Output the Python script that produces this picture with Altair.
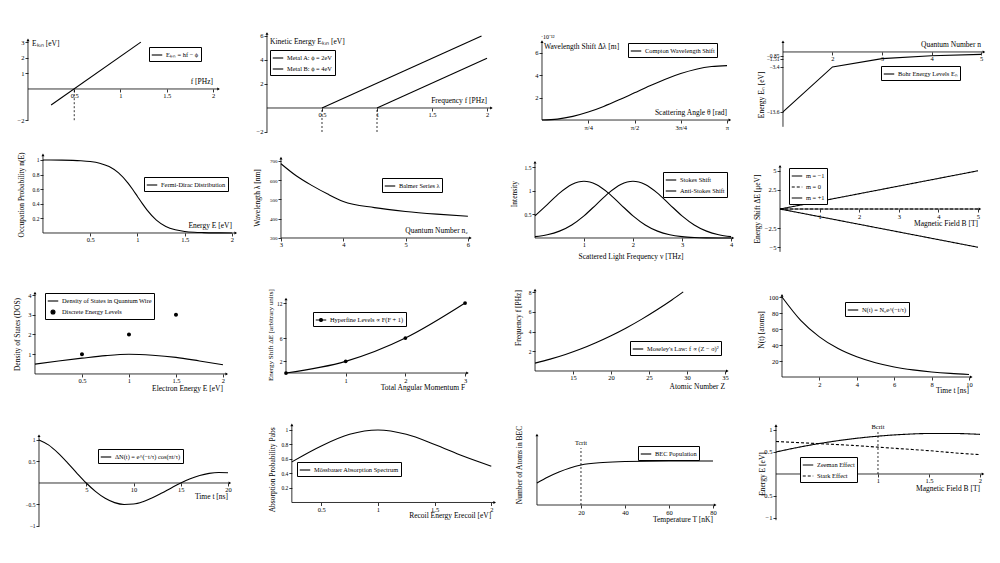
import altair as alt
import pandas as pd

FONT = "Liberation Serif"
CW, CH = 246, 136

# ---------------- data ----------------
# 1 photoelectric effect
p1_f = [0.25, 1.22]
p1_E = [-1.03, 3.0]
# 2 two metals
p2_fA = [0.5, 1.95]; p2_EA = [0.0, 6.0]
p2_fB = [1.0, 2.0]; p2_EB = [0.0, 4.14]
# 3 Compton (units 1e-12 m)
p3_theta = [0, 0.2618, 0.5236, 0.7854, 1.0472, 1.309, 1.5708, 1.8326, 2.0944, 2.3562, 2.618, 2.8798, 3.1416]
p3_dl = [0, 0.083, 0.326, 0.712, 1.215, 1.801, 2.43, 3.059, 3.645, 4.148, 4.534, 4.777, 4.86]
p3_ticks = [0.7854, 1.5708, 2.3562, 3.1416]
p3_ticklabels = ["π/4", "π/2", "3π/4", "π"]
# 4 Bohr levels
p4_n = [1, 2, 3, 4, 5]
p4_E = [-13.6, -3.4, -1.51, -0.85, -0.54]
# 5 Fermi-Dirac
p5_E = [0, 0.2, 0.4, 0.5, 0.6, 0.7, 0.8, 0.9, 0.95, 1.0, 1.05, 1.1, 1.2, 1.3, 1.4, 1.5, 1.6, 1.7, 1.8, 2.0]
p5_n = [1.0, 0.998, 0.990, 0.979, 0.956, 0.910, 0.823, 0.683, 0.595, 0.5, 0.405, 0.317, 0.177, 0.090, 0.044, 0.021, 0.010, 0.005, 0.002, 0.0005]
# 6 Balmer series
p6_n = [3, 3.25, 3.5, 3.75, 4, 4.5, 5, 5.5, 6]
p6_lam = [686, 622, 572, 528, 490, 458, 438, 424, 413]
# 7 Raman
p7_nu = [0, 0.25, 0.5, 0.75, 1, 1.25, 1.5, 1.75, 2, 2.25, 2.5, 2.75, 3, 3.25, 3.5, 3.75, 4]
p7_stokes = [0.469, 0.707, 0.949, 1.131, 1.2, 1.131, 0.949, 0.707, 0.469, 0.276, 0.145, 0.067, 0.028, 0.010, 0.003, 0.001, 0.0]
p7_anti = [0.028, 0.067, 0.145, 0.276, 0.469, 0.707, 0.949, 1.131, 1.2, 1.131, 0.949, 0.707, 0.469, 0.276, 0.145, 0.067, 0.028]
# 8 Zeeman splitting
p8_B = [0, 5]
p8_mneg = [0, 5]
p8_mzero = [0, 0]
p8_mpos = [0, -5]
# 9 DOS quantum wire
p9_E = [0, 0.25, 0.5, 0.75, 1.0, 1.25, 1.5, 1.75, 2.0]
p9_dos = [0.5, 0.66, 0.8, 0.93, 1.0, 0.95, 0.84, 0.66, 0.47]
p9_levE = [0.5, 1.0, 1.5]
p9_lev = [1, 2, 3]
# 10 hyperfine
p10_F = [0, 1, 2, 3]
p10_dE = [0, 2, 6, 12]
# 11 Moseley
p11_Z = [10, 12, 14, 16, 18, 20, 22, 24, 26, 28, 29.5]
p11_f = [0.80, 1.20, 1.67, 2.22, 2.86, 3.57, 4.36, 5.23, 6.18, 7.20, 8.02]
# 12 decay
p12_t = [0, 1, 2, 3, 4, 5, 6, 7, 8, 9, 10]
p12_N = [100, 70.8, 50.2, 35.5, 25.2, 17.8, 12.6, 8.95, 6.34, 4.49, 3.18]
# 13 damped oscillation
p13_t = list(range(0, 21))
p13_dN = [1.0, 0.886, 0.701, 0.475, 0.232, 0.0, -0.201, -0.356, -0.457, -0.500, -0.490,
          -0.434, -0.343, -0.232, -0.114, 0.0, 0.099, 0.175, 0.224, 0.245, 0.239]
# 14 Mossbauer
p14_E = [0.24, 0.5, 0.75, 1.0, 1.25, 1.5, 1.75, 2.0]
p14_P = [0.56, 0.78, 0.94, 1.0, 0.94, 0.8, 0.64, 0.5]
# 15 BEC population
p15_T = [0, 5, 10, 15, 20, 30, 40, 60, 80]
p15_N = [2.2, 2.8, 3.3, 3.7, 4.0, 4.25, 4.35, 4.4, 4.4]
p15_Tc = 20
# 16 Zeeman vs Stark
p16_B = [0, 0.25, 0.5, 0.75, 1.0, 1.25, 1.5, 1.75, 2.0]
p16_zee = [0.5, 0.62, 0.72, 0.8, 0.86, 0.9, 0.92, 0.92, 0.9]
p16_sta = [0.74, 0.71, 0.68, 0.65, 0.61, 0.57, 0.53, 0.48, 0.44]
p16_Bc = 1.0

SOLID = [1, 0]
DASH = [3, 2]
DOT_PATH = "M-0.38,0A0.38,0.38,0,1,1,0.38,0A0.38,0.38,0,1,1,-0.38,0Z"
NUMFMT = "format(datum.value, '~g')"


# ---------------- helpers ----------------
def enc(xdom, ydom, xt, yt, x_at, y_at, xlabexpr=None, ysize=6.5):
    py = CH * (ydom[1] - y_at) / (ydom[1] - ydom[0])
    px = CW * (x_at - xdom[0]) / (xdom[1] - xdom[0])
    xkw = dict(values=xt, offset=py - CH, domain=False, grid=False, title=None,
               labelExpr=xlabexpr or NUMFMT,
               labelOverlap=False, labelFlush=False, tickSize=3, labelPadding=1)
    ykw = dict(values=yt, offset=-px, domain=False, grid=False, title=None, labelExpr=NUMFMT,
               labelOverlap=False, labelFlush=False, tickSize=3, labelPadding=1,
               labelFontSize=ysize)
    X = alt.X("x:Q", scale=alt.Scale(domain=xdom, nice=False, zero=False), axis=alt.Axis(**xkw))
    Y = alt.Y("y:Q", scale=alt.Scale(domain=ydom, nice=False, zero=False), axis=alt.Axis(**ykw))
    return X, Y


def frame(X, Y, xa, ya, x_at, y_at):
    df = pd.DataFrame({"x": [xa[0], x_at], "x2": [xa[1], x_at],
                       "y": [y_at, ya[0]], "y2": [y_at, ya[1]]})
    rules = alt.Chart(df).mark_rule(color="black", strokeWidth=0.8).encode(
        x=X, x2="x2:Q", y=Y, y2="y2:Q")
    ax = alt.Chart(pd.DataFrame({"x": [xa[1]], "y": [y_at]})).mark_point(
        shape="triangle-right", filled=True, size=9, color="black", opacity=1).encode(x=X, y=Y)
    ay = alt.Chart(pd.DataFrame({"x": [x_at], "y": [ya[1]]})).mark_point(
        shape="triangle-up", filled=True, size=9, color="black", opacity=1).encode(x=X, y=Y)
    return [rules, ax, ay]


def label(X, Y, x, y, t, align="left", baseline="middle", angle=0, dx=0, dy=0, size=7.5):
    return alt.Chart(pd.DataFrame({"x": [x], "y": [y], "t": [t]})).mark_text(
        font=FONT, fontSize=size, align=align, baseline=baseline, angle=angle,
        dx=dx, dy=dy, color="black").encode(x=X, y=Y, text="t:N")


def vdash(X, Y, x, y0, y1):
    df = pd.DataFrame({"x": [x], "y": [y0], "y2": [y1]})
    return alt.Chart(df).mark_rule(color="black", strokeWidth=0.8, strokeDash=[2, 2]).encode(
        x=X, y=Y, y2="y2:Q")


def series_df(items):
    frames = []
    for name, xs, ys in items:
        frames.append(pd.DataFrame({"x": xs, "y": ys, "s": name}))
    return pd.concat(frames, ignore_index=True)


def legend(lx, ly, symtype="stroke"):
    return alt.Legend(orient="none", legendX=lx, legendY=ly, title=None, symbolType=symtype)


def lines(X, Y, items, dashes, lx, ly, interp="linear", symtype="stroke", point=False):
    names = [it[0] for it in items]
    df = series_df(items)
    leg = legend(lx, ly, symtype)
    e = dict(x=X, y=Y,
             color=alt.Color("s:N", scale=alt.Scale(domain=names, range=["black"] * len(names)), legend=leg))
    if dashes is not None:
        e["strokeDash"] = alt.StrokeDash("s:N", scale=alt.Scale(domain=names, range=dashes), legend=leg)
    mk = dict(strokeWidth=1.1, interpolate=interp)
    if point:
        mk["point"] = alt.OverlayMarkDef(filled=True, size=14, color="black")
    return alt.Chart(df).mark_line(**mk).encode(**e)


def panel(layers):
    return alt.layer(*layers).properties(width=CW, height=CH)


panels = []

# ---- 1 ----
xd, yd = [-0.216, 2.443], [-3.526, 5.19]
X, Y = enc(xd, yd, [0.5, 1, 1.5, 2], [-2, 1, 2, 3], 0, 0)
panels.append(panel(frame(X, Y, [0, 2.06], [-2, 3.15], 0, 0) + [
    vdash(X, Y, 0.5, -2, 0),
    lines(X, Y, [("Eₖᵢₙ = hf − ϕ", p1_f, p1_E)], None, 141, 39),
    label(X, Y, 0, 3, "Eₖᵢₙ [eV]", dx=4, dy=2),
    label(X, Y, 2, 0, "f [PHz]", align="right", baseline="bottom", dy=-3),
]))

# ---- 2 ----
xd, yd = [-0.118, 2.118], [-3.0, 8.33]
X, Y = enc(xd, yd, [0.5, 1, 1.5, 2], [-2, 2, 4, 6], 0, 0)
panels.append(panel(frame(X, Y, [0, 2.04], [-2, 6.2], 0, 0) + [
    vdash(X, Y, 0.5, -2, 0), vdash(X, Y, 1.0, -2, 0),
    lines(X, Y, [("Metal A: ϕ = 2eV", p2_fA, p2_EA), ("Metal B: ϕ = 4eV", p2_fB, p2_EB)], None, 16, 42),
    label(X, Y, 0, 6, "Kinetic Energy Eₖᵢₙ [eV]", dx=3, dy=6),
    label(X, Y, 2, 0, "Frequency f [PHz]", align="right", baseline="bottom", dy=-3),
]))

# ---- 3 ----
xd, yd = [-0.713, 3.464], [-2.14, 10.0]
expr = " : ".join(
    [f"abs(datum.value - {v}) < 0.01 ? '{l}'" for v, l in zip(p3_ticks[:-1], p3_ticklabels[:-1])]
    + [f"'{p3_ticklabels[-1]}'"])
X, Y = enc(xd, yd, p3_ticks, [2, 4, 6], 0, 0, xlabexpr=expr)
panels.append(panel(frame(X, Y, [0, 3.19], [0, 7.0], 0, 0) + [
    lines(X, Y, [("Compton Wavelength Shift", p3_theta, p3_dl)], None, 128, 35, interp="monotone"),
    label(X, Y, 0, 7, "Wavelength Shift Δλ [m]", dx=2, dy=5),
    label(X, Y, 0, 7, "·10⁻¹²", dx=-1, dy=-5, size=6),
    label(X, Y, 3.1416, 0, "Scattering Angle θ [rad]", align="right", baseline="bottom", dy=-3),
]))

# ---- 4 ----
xd, yd = [0.253, 5.222], [-20.9, 9.98]
X, Y = enc(xd, yd, [2, 3, 4, 5], [-13.6, -3.4, -1.51, -0.85], 1, 0, ysize=5.5)
panels.append(panel(frame(X, Y, [1, 5.06], [-17, 2.3], 1, 0) + [
    lines(X, Y, [("Bohr Energy Levels Eₙ", p4_n, p4_E)], None, 135, 58),
    label(X, Y, 5, 0, "Quantum Number n", align="right", baseline="bottom", dy=-3),
    label(X, Y, 0.576, -9.75, "Energy Eₙ [eV]", align="center", angle=270),
]))

# ---- 5 ----
xd, yd = [-0.370, 2.233], [-0.644, 1.219]
X, Y = enc(xd, yd, [0.5, 1, 1.5, 2], [0.2, 0.4, 0.6, 0.8, 1], 0, 0, ysize=5.5)
panels.append(panel(frame(X, Y, [0, 2.04], [0, 1.07], 0, 0) + [
    lines(X, Y, [("Fermi-Dirac Distribution", p5_E, p5_n)], None, 136, 33, interp="monotone"),
    label(X, Y, -0.222, 0.52, "Occupation Probability n(E)", align="center", angle=270),
    label(X, Y, 2, 0, "Energy E [eV]", align="right", baseline="bottom", dy=-3),
]))

# ---- 6 ----
xd, yd = [2.567, 6.515], [81.8, 788.3]
X, Y = enc(xd, yd, [3, 4, 5, 6], [300, 400, 500, 600, 700], 3, 300, ysize=5)
panels.append(panel(frame(X, Y, [3, 6.04], [300, 715], 3, 300) + [
    lines(X, Y, [("Balmer Series λ", p6_n, p6_lam)], None, 128, 34, interp="monotone"),
    label(X, Y, 2.63, 508, "Wavelength λ [nm]", align="center", angle=270),
    label(X, Y, 6, 300, "Quantum Number n₂", align="right", baseline="bottom", dy=-3),
]))

# ---- 7 ----
xd, yd = [-0.714, 4.306], [-0.888, 1.987]
X, Y = enc(xd, yd, [1, 2, 3, 4], [0.5, 1, 1.5], 0, 0, ysize=5.5)
panels.append(panel(frame(X, Y, [0, 4.04], [0, 1.6], 0, 0) + [
    lines(X, Y, [("Stokes Shift", p7_nu, p7_stokes), ("Anti-Stokes Shift", p7_nu, p7_anti)], None, 163, 28,
          interp="monotone"),
    label(X, Y, -0.41, 0.93, "Intensity", align="center", angle=270),
    label(X, Y, 1.96, -0.40, "Scattered Light Frequency ν [THz]", align="center"),
]))

# ---- 8 ----
xd, yd = [-0.859, 5.354], [-9.28, 8.5]
X, Y = enc(xd, yd, [1, 2, 3, 4, 5], [-5, -2.5, 2.5, 5], 0, 0)
panels.append(panel(frame(X, Y, [0, 5.05], [-5.6, 5.6], 0, 0) + [
    lines(X, Y, [("m = −1", p8_B, p8_mneg), ("m = 0", p8_B, p8_mzero), ("m = +1", p8_B, p8_mpos)],
          [SOLID, DASH, SOLID], 43, 24),
    label(X, Y, -0.556, 0, "Energy Shift ΔE [μeV]", align="center", angle=270),
    label(X, Y, 5, 0, "Magnetic Field B [T]", align="right", dy=15),
]))

# ---- 9 ----
xd, yd = [-0.287, 2.33], [-2.13, 4.76]
X, Y = enc(xd, yd, [0.5, 1, 1.5, 2], [1, 2, 3, 4], 0, 0)
names9 = ["Density of States in Quantum Wire", "Discrete Energy Levels"]
leg9 = legend(37, 13)
df9l = series_df([(names9[0], p9_E, p9_dos)])
df9p = series_df([(names9[1], p9_levE, p9_lev)])
cs9 = alt.Scale(domain=names9, range=["black", "black"])
line9 = alt.Chart(df9l).mark_line(strokeWidth=1.1, interpolate="monotone").encode(
    x=X, y=Y, color=alt.Color("s:N", scale=cs9, legend=leg9))
pts9 = alt.Chart(df9p).mark_point(filled=True, size=110, opacity=1).encode(
    x=X, y=Y, color=alt.Color("s:N", scale=cs9, legend=leg9),
    shape=alt.Shape("s:N", scale=alt.Scale(domain=names9, range=["stroke", DOT_PATH]), legend=leg9))
panels.append(panel(frame(X, Y, [0, 2.04], [0, 4.1], 0, 0) + [
    line9, pts9,
    label(X, Y, -0.18, 2.0, "Density of States (DOS)", align="center", angle=270),
    label(X, Y, 2, 0, "Electron Energy E [eV]", align="right", dy=15),
]))

# ---- 10 ----
xd, yd = [-0.536, 3.585], [-7.37, 15.95]
X, Y = enc(xd, yd, [1, 2, 3], [2, 6, 12], 0, 0, ysize=5.5)
sym10 = "M-1,0H1M-0.3,0A0.3,0.3,0,1,1,0.3,0A0.3,0.3,0,1,1,-0.3,0Z"
panels.append(panel(frame(X, Y, [0, 3.04], [0, 12.7], 0, 0) + [
    lines(X, Y, [("Hyperfine Levels ∝ F(F + 1)", p10_F, p10_dE)], None, 59, 32,
          interp="monotone", symtype=sym10, point=True),
    label(X, Y, -0.25, 6.5, "Energy Shift ΔE [arbitrary units]", align="center", angle=270, size=7),
    label(X, Y, 3, 0, "Total Angular Momentum F", align="right", dy=15),
]))

# ---- 11 ----
xd, yd = [5.39, 37.76], [-4.56, 9.22]
X, Y = enc(xd, yd, [15, 20, 25, 30, 35], [2, 4, 6, 8], 10, 0, ysize=5.5)
panels.append(panel(frame(X, Y, [10, 35.3], [0, 8.2], 10, 0) + [
    lines(X, Y, [("Moseley's Law: f ∝ (Z − σ)²", p11_Z, p11_f)], None, 130, 61, interp="monotone"),
    label(X, Y, 7.9, 5.37, "Frequency f [PHz]", align="center", angle=270),
    label(X, Y, 35, 0, "Atomic Number Z", align="right", dy=16),
]))

# ---- 12 ----
xd, yd = [-1.925, 11.23], [-48.75, 121.25]
X, Y = enc(xd, yd, [2, 4, 6, 8, 10], [20, 40, 60, 80, 100], 0, 0)
panels.append(panel(frame(X, Y, [0, 10.12], [0, 102], 0, 0) + [
    lines(X, Y, [("N(t) = N₀e^(−t/τ)", p12_t, p12_N)], None, 99, 22, interp="monotone"),
    label(X, Y, -1.07, 58.75, "N(t) [atoms]", align="center", angle=270),
    label(X, Y, 10, 0, "Time t [ns]", align="right", dy=14),
]))

# ---- 13 ----
xd, yd = [-3.28, 22.75], [-1.605, 1.558]
X, Y = enc(xd, yd, [5, 10, 15, 20], [-1, -0.5, 0.5, 1], 0, 0, ysize=5.5)
panels.append(panel(frame(X, Y, [0, 20.2], [-1, 1.1], 0, 0) + [
    lines(X, Y, [("ΔN(t) = e^(−t/τ) cos(πt/τ)", p13_t, p13_dN)], None, 90, 33, interp="monotone"),
    label(X, Y, 20, 0, "Time t [ns]", align="right", dy=14),
]))

# ---- 14 ----
xd, yd = [-0.094, 2.077], [-0.683, 1.193]
X, Y = enc(xd, yd, [0.5, 1, 1.5, 2], [0.2, 0.4, 0.6, 0.8, 1], 0.24, 0, ysize=5.5)
panels.append(panel(frame(X, Y, [0.24, 2.03], [0, 1.07], 0.24, 0) + [
    lines(X, Y, [("Mössbauer Absorption Spectrum", p14_E, p14_P)], None, 43, 46, interp="monotone"),
    label(X, Y, 0.07, 0.45, "Absorption Probability Pabs", align="center", angle=270),
    label(X, Y, 2, 0, "Recoil Energy Erecoil [eV]", align="right", dy=14),
]))

# ---- 15 ----
xd, yd = [-16.8, 95.0], [-4.7, 8.9]
X, Y = enc(xd, yd, [20, 40, 60, 80], [], 0, 0)
panels.append(panel(frame(X, Y, [0, 81], [0, 7.0], 0, 0) + [
    vdash(X, Y, p15_Tc, 0, 5.7),
    lines(X, Y, [("BEC Population", p15_T, p15_N)], None, 138, 30, interp="monotone"),
    label(X, Y, p15_Tc, 5.7, "Tcrit", align="center", baseline="bottom", dy=-2, size=6.5),
    label(X, Y, -7.7, 4.0, "Number of Atoms in BEC", align="center", angle=270),
    label(X, Y, 80, 0, "Temperature T [nK]", align="right", dy=15),
]))

# ---- 16 ----
xd, yd = [-0.294, 2.118], [-1.773, 1.318]
X, Y = enc(xd, yd, [0.5, 1, 1.5, 2], [-1, -0.5, 0.5, 1], 0, 0)
panels.append(panel(frame(X, Y, [0, 2.03], [-1.05, 1.1], 0, 0) + [
    vdash(X, Y, p16_Bc, 0, 0.98),
    lines(X, Y, [("Zeeman Effect", p16_B, p16_zee), ("Stark Effect", p16_B, p16_sta)],
          [SOLID, DASH], 54, 41, interp="monotone"),
    label(X, Y, p16_Bc, 0.98, "Bcrit", align="center", baseline="bottom", dy=-1, size=6.5),
    label(X, Y, -0.13, 0, "Energy E [eV]", align="center", angle=270),
    label(X, Y, 2, 0, "Magnetic Field B [T]", align="right", dy=15),
]))

chart = alt.concat(*panels, columns=4, spacing=0, bounds="flush").resolve_scale(
    x="independent", y="independent", color="independent",
    strokeDash="independent", shape="independent"
).properties(padding=0).configure_view(stroke=None).configure_axis(
    labelFont=FONT, labelFontSize=6.5, labelColor="black", tickColor="black", tickWidth=0.8
).configure_legend(
    strokeColor="black", fillColor="white", padding=2, cornerRadius=0,
    labelFont=FONT, labelFontSize=6.4, labelColor="black", symbolStrokeWidth=1.1,
    symbolSize=110, rowPadding=1, labelOffset=3, symbolFillColor="black"
)

chart.save("out.html", embed_options={"renderer": "svg", "actions": False})
